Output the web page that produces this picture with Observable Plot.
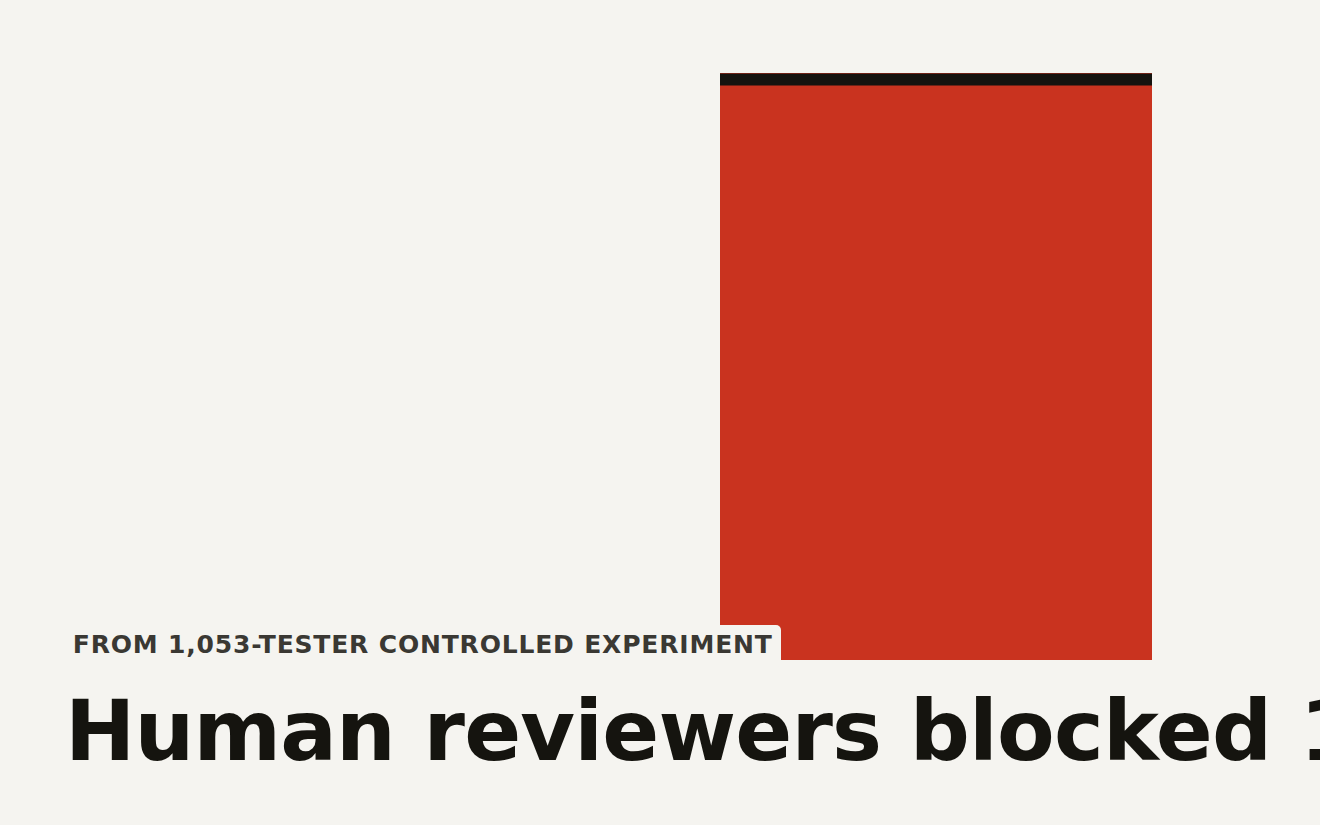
<!DOCTYPE html>
<html>
<head>
<meta charset="utf-8">
<script src="https://cdn.jsdelivr.net/npm/d3@7"></script>
<script src="https://cdn.jsdelivr.net/npm/@observablehq/plot@0.6"></script>
<style>
  html, body { margin: 0; padding: 0; background: #f5f4f0; overflow: hidden; }
  #wrap { position: relative; width: 1320px; height: 825px; font-family: "DejaVu Sans", sans-serif; }
  #chart { position: absolute; left: 0; top: 0; }
  #label {
    position: absolute; left: 65px; top: 625px;
    background: #f5f4f0; border-radius: 5px;
    padding: 6.9px 8px 10px 7.8px;
    font-size: 25px; line-height: 25px; font-weight: bold;
    letter-spacing: 0.82px; color: #3a3833; white-space: nowrap;
  }
  #title {
    position: absolute; left: 65px; top: 689px;
    font-size: 84px; line-height: 84px; font-weight: bold;
    letter-spacing: -0.8px; color: #15140f; white-space: nowrap;
  }
</style>
</head>
<body>
<div id="wrap">
  <div id="chart"></div>
  <div id="label"></div>
  <div id="title"></div>
</div>
<script>
// Data
const categories = ["Human reviewers"];
const values = [100];
const labelText = "FROM 1,053-TESTER CONTROLLED EXPERIMENT";
const titleText = "Human reviewers blocked 1";

const data = categories.map((c, i) => ({category: c, value: values[i]}));

const chart = Plot.plot({
  width: 1320,
  height: 825,
  marginLeft: 720,
  marginRight: 168,
  marginTop: 73,
  marginBottom: 165,
  style: {background: "transparent"},
  x: {domain: categories, padding: 0, axis: null},
  y: {domain: [0, d3.max(values)], axis: null},
  marks: [
    Plot.barY(data, {x: "category", y: "value", fill: "#c9331f"}),
    Plot.tickY(data, {x: "category", y: "value", stroke: "#15130f", strokeWidth: 12, dy: 6})
  ]
});
document.getElementById("chart").appendChild(chart);
document.getElementById("label").textContent = labelText;
document.getElementById("title").textContent = titleText;
</script>
</body>
</html>
